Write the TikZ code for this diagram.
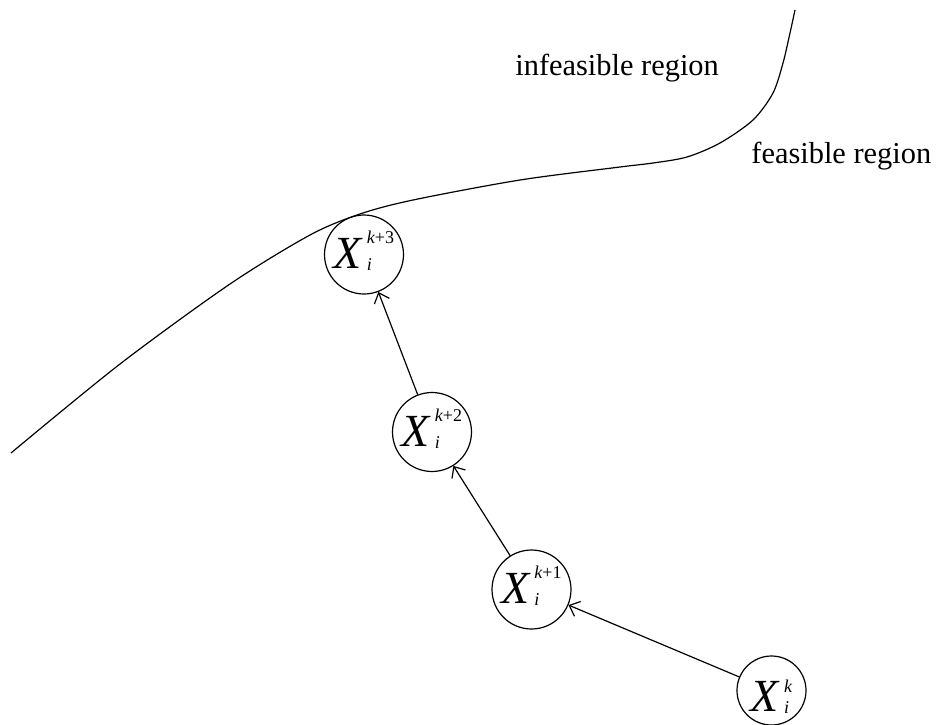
\documentclass[tikz,border=0pt]{standalone}
\usepackage{fontspec}
\setmainfont{Liberation Serif}
\usetikzlibrary{arrows.meta}

\newcommand{\iter}[2][12.5pt]{%
    {\fontsize{23}{24}\selectfont\itshape X}\kern2.5pt
    {\fontsize{9}{10}\selectfont\raisebox{-1pt}{\rlap{\itshape i}}\raisebox{#1}{\itshape k\upshape #2}}}

\begin{document}
\begin{tikzpicture}[x=0.5pt, y=-0.5pt, >={Straight Barb[length=4.5pt,width=8pt]}]
    \tikzset{iterate/.style={circle, draw, line width=0.6pt, inner sep=0pt, minimum size=39.5pt, text height=15pt, text depth=1pt},
             region/.style={anchor=base west, inner sep=0pt, font=\fontsize{15.2}{18}\selectfont}}
    \useasboundingbox (0,0) rectangle (938,724);
    % boundary between the two regions
    \draw[line width=0.6pt] plot[smooth] coordinates {(11,453) (120,364) (230,284) (310,235) (360,214) (413,200) (520,180) (620,167) (653,163) (687,157) (720,143) (753,120) (773,93) (783,63) (790,33) (795,10)};
    \node(infeasible) [region] at (515,75) {infeasible region};
    \node(feasible) [region] at (751,163) {feasible region};
    % iterates
    \node(xk3) [iterate] at (364,254.5) {\iter{+3}};
    \node(xk2) [iterate] at (432,432) {\iter{+2}};
    \node(xk1) [iterate] at (531.5,589.5) {\iter{+1}};
    \node(xk) [iterate, minimum size=34.5pt, text height=22pt] at (771.5,690.5) {\iter[9.5pt]{}};
    \draw[->, line width=0.6pt] (xk) -- (xk1);
    \draw[->, line width=0.6pt] (xk1) -- (xk2);
    \draw[->, line width=0.6pt] (xk2) -- (xk3);
\end{tikzpicture}
\end{document}
